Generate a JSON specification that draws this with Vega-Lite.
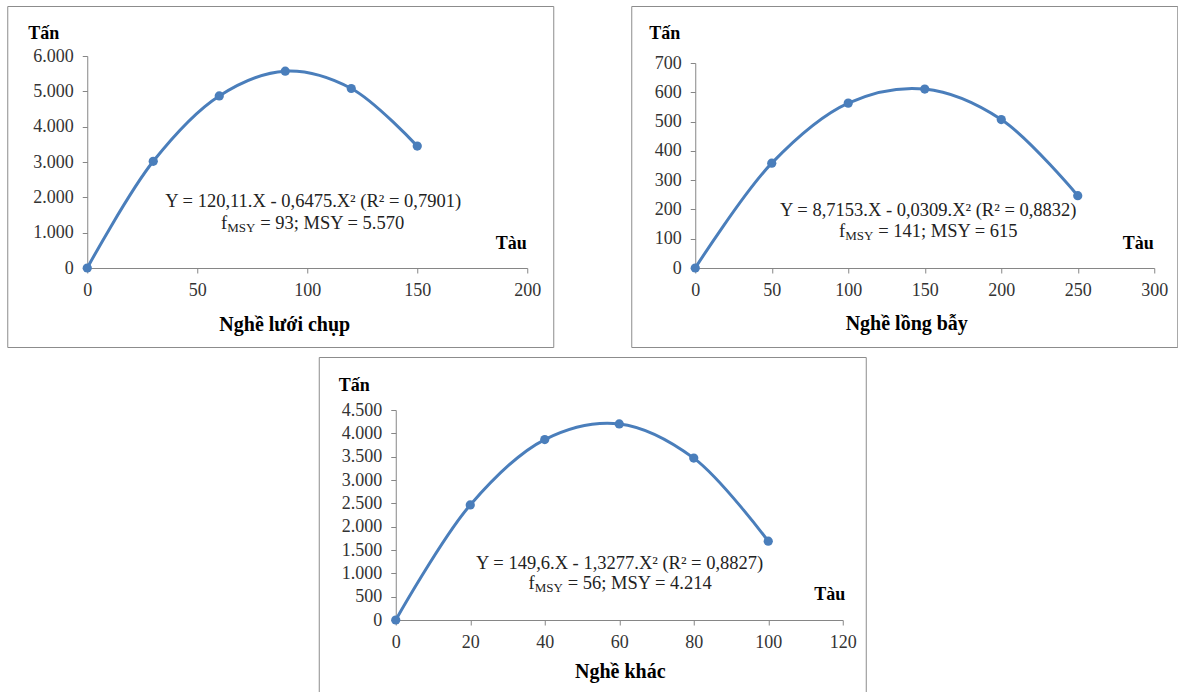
{
  "$schema": "https://vega.github.io/schema/vega-lite/v6.json",
  "padding": {"left": 6, "top": 5, "right": 0, "bottom": 0},
  "background": "white",
  "config": {
    "font": "Liberation Serif",
    "view": {"stroke": "#8c8c8c", "strokeWidth": 1},
    "axis": {
      "grid": false,
      "domainColor": "#868686",
      "tickColor": "#868686",
      "tickSize": 5,
      "labelFont": "Liberation Serif",
      "labelFontSize": 18,
      "labelColor": "#333333",
      "labelFlush": false,
      "labelOverlap": false,
      "labelPadding": 8,
      "titleFont": "Liberation Serif",
      "titleFontSize": 18,
      "titleFontWeight": "bold",
      "titleColor": "#000000",
      "titleAngle": 0,
      "titleAlign": "center",
      "titleBaseline": "middle"
    },
    "axisX": {"titleFontSize": 20},
    "text": {"font": "Liberation Serif", "fontSize": 18.5, "color": "#222222"},
    "line": {"color": "#4a7ebb", "strokeWidth": 3, "interpolate": "catmull-rom"},
    "point": {"color": "#4a7ebb", "filled": true, "size": 85, "opacity": 1}
  },
  "spacing": 8,
  "center": true,
  "vconcat": [
    {
      "spacing": 76,
      "hconcat": [
        {
          "width": 546,
          "height": 341,
          "resolve": {"axis": {"x": "independent", "y": "independent"}},
          "layer": [
            {
              "data": {"values": [
                {"tau": 0, "tan": 0},
                {"tau": 30, "tan": 3020},
                {"tau": 60, "tan": 4870},
                {"tau": 90, "tan": 5570},
                {"tau": 120, "tan": 5080},
                {"tau": 150, "tan": 3450}
              ]},
              "encoding": {
                "x": {"field": "tau", "type": "quantitative",
                  "scale": {"domain": [0, 200], "range": [80, 520]},
                  "axis": {"values": [0, 50, 100, 150, 200], "offset": -79, "title": "Nghề lưới chụp", "titleX": 277, "titleY": 56}},
                "y": {"field": "tan", "type": "quantitative",
                  "scale": {"domain": [0, 6000], "range": [262, 50]},
                  "axis": {"values": [0, 1000, 2000, 3000, 4000, 5000, 6000], "offset": -80, "labelPadding": 9,
                    "labelExpr": "replace(format(datum.value, ','), ',', '.')",
                    "title": "Tấn", "titleX": -44, "titleY": 27}}
              },
              "layer": [
                {"mark": {"type": "line"}},
                {"mark": {"type": "point"}}
              ]
            },
            {
              "data": {"values": [{"n": 1}]},
              "layer": [
                {"mark": {"type": "text", "align": "center", "baseline": "middle"},
                 "encoding": {"x": {"datum": 102.7, "type": "quantitative", "axis": null}, "y": {"datum": 1896, "type": "quantitative", "axis": null}, "text": {"value": "Y = 120,11.X - 0,6475.X² (R² = 0,7901)"}}},
                {"mark": {"type": "text", "align": "right", "baseline": "middle"},
                 "encoding": {"x": {"datum": 63.6, "type": "quantitative", "axis": null}, "y": {"datum": 1274, "type": "quantitative", "axis": null}, "text": {"value": "f"}}},
                {"mark": {"type": "text", "align": "left", "baseline": "middle", "fontSize": 13, "dy": 5},
                 "encoding": {"x": {"datum": 63.6, "type": "quantitative", "axis": null}, "y": {"datum": 1274, "type": "quantitative", "axis": null}, "text": {"value": "MSY"}}},
                {"mark": {"type": "text", "align": "left", "baseline": "middle", "dx": 33},
                 "encoding": {"x": {"datum": 63.6, "type": "quantitative", "axis": null}, "y": {"datum": 1274, "type": "quantitative", "axis": null}, "text": {"value": "= 93; MSY = 5.570"}}},
                {"mark": {"type": "text", "align": "center", "baseline": "middle", "fontWeight": "bold", "fontSize": 18, "color": "#000000"},
                 "encoding": {"x": {"datum": 192.7, "type": "quantitative", "axis": null}, "y": {"datum": 679, "type": "quantitative", "axis": null}, "text": {"value": "Tàu"}}}
              ]
            }
          ]
        },
        {
          "width": 546,
          "height": 341,
          "resolve": {"axis": {"x": "independent", "y": "independent"}},
          "layer": [
            {
              "data": {"values": [
                {"tau": 0, "tan": 0},
                {"tau": 50, "tan": 358},
                {"tau": 100, "tan": 563},
                {"tau": 150, "tan": 611},
                {"tau": 200, "tan": 507},
                {"tau": 250, "tan": 247}
              ]},
              "encoding": {
                "x": {"field": "tau", "type": "quantitative",
                  "scale": {"domain": [0, 300], "range": [64, 523]},
                  "axis": {"values": [0, 50, 100, 150, 200, 250, 300], "offset": -79, "title": "Nghề lồng bẫy", "titleX": 275, "titleY": 55}},
                "y": {"field": "tan", "type": "quantitative",
                  "scale": {"domain": [0, 700], "range": [262, 57]},
                  "axis": {"values": [0, 100, 200, 300, 400, 500, 600, 700], "offset": -64, "labelPadding": 9,
                    "title": "Tấn", "titleX": -31, "titleY": 27}}
              },
              "layer": [
                {"mark": {"type": "line"}},
                {"mark": {"type": "point"}}
              ]
            },
            {
              "data": {"values": [{"n": 1}]},
              "layer": [
                {"mark": {"type": "text", "align": "center", "baseline": "middle"},
                 "encoding": {"x": {"datum": 152.3, "type": "quantitative", "axis": null}, "y": {"datum": 198, "type": "quantitative", "axis": null}, "text": {"value": "Y = 8,7153.X - 0,0309.X² (R² = 0,8832)"}}},
                {"mark": {"type": "text", "align": "right", "baseline": "middle"},
                 "encoding": {"x": {"datum": 98, "type": "quantitative", "axis": null}, "y": {"datum": 126, "type": "quantitative", "axis": null}, "text": {"value": "f"}}},
                {"mark": {"type": "text", "align": "left", "baseline": "middle", "fontSize": 13, "dy": 5},
                 "encoding": {"x": {"datum": 98, "type": "quantitative", "axis": null}, "y": {"datum": 126, "type": "quantitative", "axis": null}, "text": {"value": "MSY"}}},
                {"mark": {"type": "text", "align": "left", "baseline": "middle", "dx": 33},
                 "encoding": {"x": {"datum": 98, "type": "quantitative", "axis": null}, "y": {"datum": 126, "type": "quantitative", "axis": null}, "text": {"value": "= 141; MSY = 615"}}},
                {"mark": {"type": "text", "align": "center", "baseline": "middle", "fontWeight": "bold", "fontSize": 18, "color": "#000000"},
                 "encoding": {"x": {"datum": 289.5, "type": "quantitative", "axis": null}, "y": {"datum": 82, "type": "quantitative", "axis": null}, "text": {"value": "Tàu"}}}
              ]
            }
          ]
        }
      ]
    },
    {
      "width": 547,
      "height": 337,
      "resolve": {"axis": {"x": "independent", "y": "independent"}},
      "layer": [
        {
          "data": {"values": [
            {"tau": 0, "tan": 0},
            {"tau": 20, "tan": 2465},
            {"tau": 40, "tan": 3867},
            {"tau": 60, "tan": 4202},
            {"tau": 80, "tan": 3469},
            {"tau": 100, "tan": 1688}
          ]},
          "encoding": {
            "x": {"field": "tau", "type": "quantitative",
              "scale": {"domain": [0, 120], "range": [77, 524]},
              "axis": {"values": [0, 20, 40, 60, 80, 100, 120], "offset": -74, "title": "Nghề khác", "titleX": 301, "titleY": 51}},
            "y": {"field": "tan", "type": "quantitative",
              "scale": {"domain": [0, 4500], "range": [263, 53]},
              "axis": {"values": [0, 500, 1000, 1500, 2000, 2500, 3000, 3500, 4000, 4500], "offset": -77, "labelPadding": 9,
                "labelExpr": "replace(format(datum.value, ','), ',', '.')",
                "title": "Tấn", "titleX": -42, "titleY": 28}}
          },
          "layer": [
            {"mark": {"type": "line"}},
            {"mark": {"type": "point"}}
          ]
        },
        {
          "data": {"values": [{"n": 1}]},
          "layer": [
            {"mark": {"type": "text", "align": "center", "baseline": "middle"},
             "encoding": {"x": {"datum": 60.1, "type": "quantitative", "axis": null}, "y": {"datum": 1221, "type": "quantitative", "axis": null}, "text": {"value": "Y = 149,6.X - 1,3277.X² (R² = 0,8827)"}}},
            {"mark": {"type": "text", "align": "right", "baseline": "middle"},
             "encoding": {"x": {"datum": 37.3, "type": "quantitative", "axis": null}, "y": {"datum": 793, "type": "quantitative", "axis": null}, "text": {"value": "f"}}},
            {"mark": {"type": "text", "align": "left", "baseline": "middle", "fontSize": 13, "dy": 5},
             "encoding": {"x": {"datum": 37.3, "type": "quantitative", "axis": null}, "y": {"datum": 793, "type": "quantitative", "axis": null}, "text": {"value": "MSY"}}},
            {"mark": {"type": "text", "align": "left", "baseline": "middle", "dx": 33},
             "encoding": {"x": {"datum": 37.3, "type": "quantitative", "axis": null}, "y": {"datum": 793, "type": "quantitative", "axis": null}, "text": {"value": "= 56; MSY = 4.214"}}},
            {"mark": {"type": "text", "align": "center", "baseline": "middle", "fontWeight": "bold", "fontSize": 18, "color": "#000000"},
             "encoding": {"x": {"datum": 116.5, "type": "quantitative", "axis": null}, "y": {"datum": 536, "type": "quantitative", "axis": null}, "text": {"value": "Tàu"}}}
          ]
        }
      ]
    }
  ]
}
